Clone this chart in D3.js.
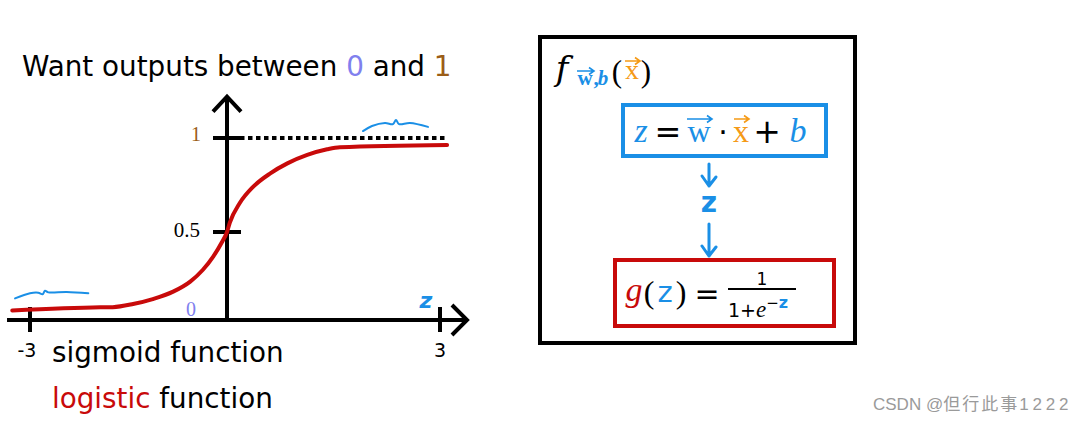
<!DOCTYPE html>
<html>
<head>
<meta charset="utf-8">
<script src="https://cdn.jsdelivr.net/npm/d3@7"></script>
<style>
  html, body { margin: 0; padding: 0; background: #fff; }
  svg { display: block; }
</style>
</head>
<body>
<svg id="chart" width="1086" height="423"></svg>
<script>
// sigmoid curve (z, g(z))
const zVals = [-3.27, -1.93, -1.74, -1.43, -1.13, -0.82, -0.56, -0.37, -0.21, -0.08, 0, 0.04, 0.18, 0.37, 0.61, 0.85, 1.13, 1.41, 1.59, 3.10];
const gVals = [0.054, 0.072, 0.073, 0.091, 0.119, 0.161, 0.218, 0.284, 0.36, 0.44, 0.5, 0.55, 0.654, 0.741, 0.812, 0.865, 0.91, 0.94, 0.951, 0.963];

// hand drawn blue marks near the asymptotes
const squiggleHiZ = [1.915, 2.042, 2.225, 2.338, 2.380, 2.423, 2.577, 2.831];
const squiggleHiG = [1.037, 1.064, 1.080, 1.074, 1.096, 1.074, 1.080, 1.059];
const squiggleLoZ = [-3.228, -3.0, -2.874, -2.807, -2.772, -2.721, -2.441, -2.112];
const squiggleLoG = [0.123, 0.152, 0.155, 0.146, 0.166, 0.157, 0.159, 0.152];

const xTicks = [-3, 3];
const xTickLabels = ["-3", "3"];
const yTicks = [0.5, 1];
const xExtent = [-3.35, 3.38];
const yTop = 1.22;
const dottedFrom = 0.183, dottedTo = 3.10;

const BLUE = "#1a8fe6", ORANGE = "#f59a16", RED = "#c80a0a", BROWN = "#9b5d17", PURPLE = "#8080ee";

const svg = d3.select("#chart");
svg.append("rect").attr("width", 1086).attr("height", 423).attr("fill", "#fff");

// hand drawn axes are not evenly spaced either side of zero
const x = d3.scaleLinear().domain([-3, 0, 3]).range([30, 227, 440]);
const y = d3.scaleLinear().domain([0, 0.5, 1]).range([320, 232, 138]);

const sans = "'DejaVu Sans', Verdana, sans-serif";
const serif = "'Liberation Serif', 'DejaVu Serif', serif";

// title
const title = svg.append("text").attr("x", 22).attr("y", 76)
  .attr("font-family", sans).attr("font-size", 27.8).attr("fill", "#000");
title.append("tspan").text("Want outputs between ");
title.append("tspan").attr("fill", PURPLE).text("0");
title.append("tspan").text(" and ");
title.append("tspan").attr("fill", BROWN).text("1");

const g = svg.append("g").attr("class", "plot");

// axes
g.append("line").attr("x1", x(xExtent[0])).attr("x2", x(xExtent[1]))
  .attr("y1", y(0)).attr("y2", y(0)).attr("stroke", "#000").attr("stroke-width", 4);
g.append("path")
  .attr("d", `M${x(xExtent[1]) - 15},${y(0) - 15} L${x(xExtent[1])},${y(0)} L${x(xExtent[1]) - 15},${y(0) + 15}`)
  .attr("fill", "none").attr("stroke", "#000").attr("stroke-width", 4);
g.append("line").attr("x1", x(0)).attr("x2", x(0))
  .attr("y1", y(0)).attr("y2", y(yTop)).attr("stroke", "#000").attr("stroke-width", 4);
g.append("path")
  .attr("d", `M${x(0) - 14},${y(yTop) + 15} L${x(0)},${y(yTop)} L${x(0) + 14},${y(yTop) + 15}`)
  .attr("fill", "none").attr("stroke", "#000").attr("stroke-width", 4);

// ticks
g.selectAll(".xtick").data(xTicks).enter().append("line")
  .attr("x1", d => x(d)).attr("x2", d => x(d))
  .attr("y1", y(0) - 13).attr("y2", y(0) + 12)
  .attr("stroke", "#000").attr("stroke-width", 4);
g.selectAll(".ytick").data(yTicks).enter().append("line")
  .attr("x1", x(0) - 14).attr("x2", x(0) + 14)
  .attr("y1", d => y(d)).attr("y2", d => y(d))
  .attr("stroke", "#000").attr("stroke-width", 4);

g.selectAll(".xlab").data(xTicks).enter().append("text")
  .attr("x", d => x(d) - (d < 0 ? 3 : 0)).attr("y", y(0) + 37)
  .attr("text-anchor", "middle").attr("font-family", sans).attr("font-size", 19)
  .text((d, i) => xTickLabels[i]);

g.append("text").attr("x", x(0) - 26).attr("y", y(1) + 3).attr("text-anchor", "end")
  .attr("font-family", serif).attr("font-size", 20).attr("fill", BROWN).text("1");
g.append("text").attr("x", x(0) - 27).attr("y", y(0.5) + 5).attr("text-anchor", "end")
  .attr("font-family", serif).attr("font-size", 21).attr("fill", "#000").text("0.5");
g.append("text").attr("x", x(0) - 31).attr("y", y(0) - 4).attr("text-anchor", "end")
  .attr("font-family", serif).attr("font-size", 20).attr("fill", PURPLE).text("0");
g.append("text").attr("x", x(2.8)).attr("y", y(0) - 12).attr("text-anchor", "middle")
  .attr("font-family", sans).attr("font-style", "italic").attr("font-weight", "bold")
  .attr("font-size", 22).attr("fill", BLUE).text("z");

// dotted asymptote
g.append("line").attr("x1", x(dottedFrom)).attr("x2", x(dottedTo))
  .attr("y1", y(1)).attr("y2", y(1))
  .attr("stroke", "#000").attr("stroke-width", 4).attr("stroke-dasharray", "4.5,3.5");

// curve
const line = d3.line().x(d => x(d[0])).y(d => y(d[1])).curve(d3.curveMonotoneX);
g.append("path").datum(d3.zip(zVals, gVals)).attr("d", line)
  .attr("fill", "none").attr("stroke", RED).attr("stroke-width", 4).attr("stroke-linecap", "round");

const squig = d3.line().x(d => x(d[0])).y(d => y(d[1])).curve(d3.curveCatmullRom);
[[squiggleHiZ, squiggleHiG], [squiggleLoZ, squiggleLoG]].forEach(s => {
  g.append("path").datum(d3.zip(s[0], s[1])).attr("d", squig)
    .attr("fill", "none").attr("stroke", BLUE).attr("stroke-width", 2).attr("stroke-linecap", "round");
});

// captions
svg.append("text").attr("x", 52).attr("y", 362).attr("font-family", sans).attr("font-size", 27.8)
  .text("sigmoid function");
const cap2 = svg.append("text").attr("x", 52).attr("y", 408).attr("font-family", sans).attr("font-size", 27.8);
cap2.append("tspan").attr("fill", RED).text("logistic");
cap2.append("tspan").text(" function");

// right panel
const p = svg.append("g").attr("class", "panel");
p.append("rect").attr("x", 540).attr("y", 37).attr("width", 315).attr("height", 306)
  .attr("fill", "none").attr("stroke", "#000").attr("stroke-width", 4);

function put(parent, txt, cx, by, opt) {
  return parent.append("text").attr("x", cx).attr("y", by).attr("text-anchor", "middle")
    .attr("font-family", opt.family || serif).attr("font-size", opt.size || 30)
    .attr("font-style", opt.italic ? "italic" : "normal")
    .attr("font-weight", opt.bold ? "bold" : "normal")
    .attr("fill", opt.color || "#000").text(txt);
}
function vecArrow(parent, x1, x2, yy, color) {
  parent.append("path")
    .attr("d", `M${x1},${yy} L${x2},${yy} M${x2 - 5},${yy - 3.5} L${x2},${yy} L${x2 - 5},${yy + 3.5}`)
    .attr("fill", "none").attr("stroke", color).attr("stroke-width", 1.6);
}

// f_{w,b}(x)
put(p, "f", 562, 80, { italic: true, size: 34, family: "'DejaVu Serif', serif" });
put(p, "w", 585, 85, { size: 21, color: BLUE, bold: true });
vecArrow(p, 577, 594, 71, BLUE);
put(p, ",", 596, 85, { size: 21, color: BLUE, bold: true });
put(p, "b", 603, 85, { size: 21, color: BLUE, italic: true, bold: true });
put(p, "(", 617, 82, { size: 31 });
put(p, "x", 632, 79, { size: 28, color: ORANGE });
vecArrow(p, 625, 640, 61, ORANGE);
put(p, ")", 646, 82, { size: 31 });

// z = w.x + b
p.append("rect").attr("x", 623).attr("y", 105).attr("width", 203).attr("height", 51)
  .attr("fill", "none").attr("stroke", BLUE).attr("stroke-width", 4);
put(p, "z", 641, 142, { italic: true, size: 34, color: BLUE });
put(p, "=", 668, 143, { size: 32, family: sans });
put(p, "w", 699, 142, { size: 32, color: BLUE });
vecArrow(p, 687, 712, 119, BLUE);
put(p, "·", 723, 143, { size: 30, family: sans });
put(p, "x", 741, 142, { size: 32, color: ORANGE });
vecArrow(p, 734, 749, 119, ORANGE);
put(p, "+", 767, 143, { size: 33, family: sans });
put(p, "b", 798, 142, { italic: true, size: 34, color: BLUE });

// arrows and z
function downArrow(y1, y2) {
  p.append("path")
    .attr("d", `M709,${y1} L709,${y2} M702,${y2 - 10} L709,${y2} L716,${y2 - 9}`)
    .attr("fill", "none").attr("stroke", BLUE).attr("stroke-width", 3)
    .attr("stroke-linecap", "round").attr("stroke-linejoin", "round");
}
downArrow(164, 186);
put(p, "z", 709, 212, { family: sans, size: 28, color: BLUE, bold: true });
downArrow(224, 256);

// g(z) = 1/(1+e^-z)
p.append("rect").attr("x", 615).attr("y", 260).attr("width", 219).attr("height", 66)
  .attr("fill", "none").attr("stroke", RED).attr("stroke-width", 4);
put(p, "g", 634, 301, { italic: true, size: 34, color: RED });
put(p, "(", 649, 303, { size: 32 });
put(p, "z", 665, 302, { size: 29, color: BLUE, family: sans });
put(p, ")", 681, 303, { size: 32 });
put(p, "=", 707, 304, { size: 30, family: sans });
p.append("line").attr("x1", 728).attr("x2", 796).attr("y1", 289).attr("y2", 289)
  .attr("stroke", "#000").attr("stroke-width", 1.8);
put(p, "1", 762, 285, { size: 17, family: sans });
const den = p.append("text").attr("x", 728).attr("y", 317)
  .attr("font-family", sans).attr("font-size", 19);
den.append("tspan").text("1+");
den.append("tspan").attr("font-family", serif).attr("font-style", "italic").attr("font-size", 23).text("e");
den.append("tspan").attr("dy", -9).attr("font-size", 15).text("−");
den.append("tspan").attr("font-size", 16).attr("font-weight", "bold")
  .attr("fill", BLUE).text("z");

// watermark
const wm = svg.append("text").attr("x", 873).attr("y", 410)
  .attr("font-family", "'Liberation Sans', 'Noto Sans CJK SC', sans-serif")
  .attr("font-size", 17).attr("fill", "#9a9a9a");
wm.append("tspan").text("CSDN @");
wm.append("tspan").attr("font-family", "'Noto Sans CJK SC', sans-serif").attr("letter-spacing", 2).text("但行此事");
wm.append("tspan").attr("letter-spacing", 3.8).text("1222");
</script>
</body>
</html>
